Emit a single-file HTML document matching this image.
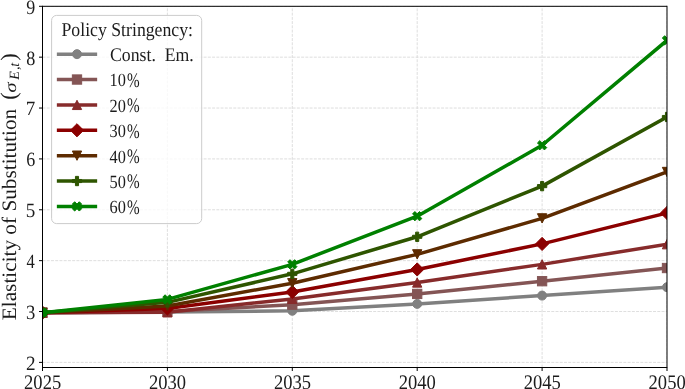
<!DOCTYPE html>
<html><head><meta charset="utf-8"><style>
html,body{margin:0;padding:0;background:#fff;overflow:hidden}
svg{display:block;will-change:transform;font-family:"Liberation Serif",serif;fill:#000;text-rendering:geometricPrecision}
text{fill:#1c1c1c}
</style></head><body>
<svg width="685" height="389" viewBox="0 0 685 389">
<rect width="685" height="389" fill="#fff"/>
<defs><clipPath id="ax"><rect x="42.5" y="6.3" width="624.5" height="361.2"/></clipPath></defs>
<path d="M42.50 367.50V6.30M167.40 367.50V6.30M292.30 367.50V6.30M417.20 367.50V6.30M542.10 367.50V6.30M667.00 367.50V6.30M42.50 362.39H667.00M42.50 311.52H667.00M42.50 260.65H667.00M42.50 209.78H667.00M42.50 158.91H667.00M42.50 108.04H667.00M42.50 57.17H667.00M42.50 6.30H667.00" stroke="#d6d6d6" stroke-width="0.8" stroke-dasharray="2.96 1.28" fill="none" clip-path="url(#ax)"/>
<g clip-path="url(#ax)">
<polyline points="42.50,312.64 167.40,312.03 292.30,310.76 417.20,303.89 542.10,295.60 667.00,287.20" fill="none" stroke="#808080" stroke-width="3.5" stroke-linejoin="round" stroke-linecap="square"/>
<circle cx="42.50" cy="312.64" r="4.50" fill="#808080" stroke="#808080" stroke-width="1.0"/>
<circle cx="167.40" cy="312.03" r="4.50" fill="#808080" stroke="#808080" stroke-width="1.0"/>
<circle cx="292.30" cy="310.76" r="4.50" fill="#808080" stroke="#808080" stroke-width="1.0"/>
<circle cx="417.20" cy="303.89" r="4.50" fill="#808080" stroke="#808080" stroke-width="1.0"/>
<circle cx="542.10" cy="295.60" r="4.50" fill="#808080" stroke="#808080" stroke-width="1.0"/>
<circle cx="667.00" cy="287.20" r="4.50" fill="#808080" stroke="#808080" stroke-width="1.0"/>
<polyline points="42.50,312.64 167.40,311.52 292.30,304.70 417.20,293.92 542.10,281.20 667.00,268.03" fill="none" stroke="#845555" stroke-width="3.5" stroke-linejoin="round" stroke-linecap="square"/>
<rect x="37.85" y="307.99" width="9.30" height="9.30" fill="#845555" stroke="#845555" stroke-width="1.0" stroke-linejoin="miter"/>
<rect x="162.75" y="306.87" width="9.30" height="9.30" fill="#845555" stroke="#845555" stroke-width="1.0" stroke-linejoin="miter"/>
<rect x="287.65" y="300.05" width="9.30" height="9.30" fill="#845555" stroke="#845555" stroke-width="1.0" stroke-linejoin="miter"/>
<rect x="412.55" y="289.27" width="9.30" height="9.30" fill="#845555" stroke="#845555" stroke-width="1.0" stroke-linejoin="miter"/>
<rect x="537.45" y="276.55" width="9.30" height="9.30" fill="#845555" stroke="#845555" stroke-width="1.0" stroke-linejoin="miter"/>
<rect x="662.35" y="263.38" width="9.30" height="9.30" fill="#845555" stroke="#845555" stroke-width="1.0" stroke-linejoin="miter"/>
<polyline points="42.50,312.64 167.40,312.33 292.30,298.90 417.20,282.52 542.10,264.36 667.00,244.22" fill="none" stroke="#872b2b" stroke-width="3.5" stroke-linejoin="round" stroke-linecap="square"/>
<polygon points="42.50,307.99 37.85,317.29 47.15,317.29" fill="#872b2b" stroke="#872b2b" stroke-width="1.0" stroke-linejoin="miter"/>
<polygon points="167.40,307.68 162.75,316.98 172.05,316.98" fill="#872b2b" stroke="#872b2b" stroke-width="1.0" stroke-linejoin="miter"/>
<polygon points="292.30,294.25 287.65,303.55 296.95,303.55" fill="#872b2b" stroke="#872b2b" stroke-width="1.0" stroke-linejoin="miter"/>
<polygon points="417.20,277.87 412.55,287.17 421.85,287.17" fill="#872b2b" stroke="#872b2b" stroke-width="1.0" stroke-linejoin="miter"/>
<polygon points="542.10,259.71 537.45,269.01 546.75,269.01" fill="#872b2b" stroke="#872b2b" stroke-width="1.0" stroke-linejoin="miter"/>
<polygon points="667.00,239.57 662.35,248.87 671.65,248.87" fill="#872b2b" stroke="#872b2b" stroke-width="1.0" stroke-linejoin="miter"/>
<polyline points="42.50,312.64 167.40,308.47 292.30,291.99 417.20,269.45 542.10,243.91 667.00,212.98" fill="none" stroke="#8b0000" stroke-width="3.5" stroke-linejoin="round" stroke-linecap="square"/>
<polygon points="42.50,306.06 49.08,312.64 42.50,319.22 35.92,312.64" fill="#8b0000" stroke="#8b0000" stroke-width="1.0" stroke-linejoin="miter"/>
<polygon points="167.40,301.89 173.98,308.47 167.40,315.04 160.82,308.47" fill="#8b0000" stroke="#8b0000" stroke-width="1.0" stroke-linejoin="miter"/>
<polygon points="292.30,285.41 298.88,291.99 292.30,298.56 285.72,291.99" fill="#8b0000" stroke="#8b0000" stroke-width="1.0" stroke-linejoin="miter"/>
<polygon points="417.20,262.87 423.78,269.45 417.20,276.03 410.62,269.45" fill="#8b0000" stroke="#8b0000" stroke-width="1.0" stroke-linejoin="miter"/>
<polygon points="542.10,237.34 548.68,243.91 542.10,250.49 535.52,243.91" fill="#8b0000" stroke="#8b0000" stroke-width="1.0" stroke-linejoin="miter"/>
<polygon points="667.00,206.41 673.58,212.98 667.00,219.56 660.42,212.98" fill="#8b0000" stroke="#8b0000" stroke-width="1.0" stroke-linejoin="miter"/>
<polyline points="42.50,312.64 167.40,305.92 292.30,283.24 417.20,254.34 542.10,218.38 667.00,171.98" fill="none" stroke="#5d2b00" stroke-width="3.5" stroke-linejoin="round" stroke-linecap="square"/>
<polygon points="42.50,317.29 37.85,307.99 47.15,307.99" fill="#5d2b00" stroke="#5d2b00" stroke-width="1.0" stroke-linejoin="miter"/>
<polygon points="167.40,310.57 162.75,301.27 172.05,301.27" fill="#5d2b00" stroke="#5d2b00" stroke-width="1.0" stroke-linejoin="miter"/>
<polygon points="292.30,287.89 287.65,278.59 296.95,278.59" fill="#5d2b00" stroke="#5d2b00" stroke-width="1.0" stroke-linejoin="miter"/>
<polygon points="417.20,258.99 412.55,249.69 421.85,249.69" fill="#5d2b00" stroke="#5d2b00" stroke-width="1.0" stroke-linejoin="miter"/>
<polygon points="542.10,223.03 537.45,213.73 546.75,213.73" fill="#5d2b00" stroke="#5d2b00" stroke-width="1.0" stroke-linejoin="miter"/>
<polygon points="667.00,176.63 662.35,167.33 671.65,167.33" fill="#5d2b00" stroke="#5d2b00" stroke-width="1.0" stroke-linejoin="miter"/>
<polyline points="42.50,312.64 167.40,302.36 292.30,273.83 417.20,236.79 542.10,186.13 667.00,116.99" fill="none" stroke="#2e5500" stroke-width="3.5" stroke-linejoin="round" stroke-linecap="square"/>
<polygon points="40.95,307.99 44.05,307.99 44.05,311.09 47.15,311.09 47.15,314.19 44.05,314.19 44.05,317.29 40.95,317.29 40.95,314.19 37.85,314.19 37.85,311.09 40.95,311.09" fill="#2e5500" stroke="#2e5500" stroke-width="1.0" stroke-linejoin="miter"/>
<polygon points="165.85,297.71 168.95,297.71 168.95,300.81 172.05,300.81 172.05,303.91 168.95,303.91 168.95,307.01 165.85,307.01 165.85,303.91 162.75,303.91 162.75,300.81 165.85,300.81" fill="#2e5500" stroke="#2e5500" stroke-width="1.0" stroke-linejoin="miter"/>
<polygon points="290.75,269.18 293.85,269.18 293.85,272.28 296.95,272.28 296.95,275.38 293.85,275.38 293.85,278.48 290.75,278.48 290.75,275.38 287.65,275.38 287.65,272.28 290.75,272.28" fill="#2e5500" stroke="#2e5500" stroke-width="1.0" stroke-linejoin="miter"/>
<polygon points="415.65,232.14 418.75,232.14 418.75,235.24 421.85,235.24 421.85,238.34 418.75,238.34 418.75,241.44 415.65,241.44 415.65,238.34 412.55,238.34 412.55,235.24 415.65,235.24" fill="#2e5500" stroke="#2e5500" stroke-width="1.0" stroke-linejoin="miter"/>
<polygon points="540.55,181.48 543.65,181.48 543.65,184.58 546.75,184.58 546.75,187.68 543.65,187.68 543.65,190.78 540.55,190.78 540.55,187.68 537.45,187.68 537.45,184.58 540.55,184.58" fill="#2e5500" stroke="#2e5500" stroke-width="1.0" stroke-linejoin="miter"/>
<polygon points="665.45,112.34 668.55,112.34 668.55,115.44 671.65,115.44 671.65,118.54 668.55,118.54 668.55,121.64 665.45,121.64 665.45,118.54 662.35,118.54 662.35,115.44 665.45,115.44" fill="#2e5500" stroke="#2e5500" stroke-width="1.0" stroke-linejoin="miter"/>
<polyline points="42.50,312.64 167.40,299.41 292.30,264.31 417.20,216.19 542.10,145.28 667.00,40.38" fill="none" stroke="#008000" stroke-width="3.5" stroke-linejoin="round" stroke-linecap="square"/>
<polygon points="40.17,307.99 42.50,310.31 44.83,307.99 47.15,310.31 44.83,312.64 47.15,314.96 44.83,317.29 42.50,314.96 40.17,317.29 37.85,314.96 40.17,312.64 37.85,310.31" fill="#008000" stroke="#008000" stroke-width="1.0" stroke-linejoin="miter"/>
<polygon points="165.08,294.76 167.40,297.09 169.72,294.76 172.05,297.09 169.72,299.41 172.05,301.74 169.72,304.06 167.40,301.74 165.08,304.06 162.75,301.74 165.08,299.41 162.75,297.09" fill="#008000" stroke="#008000" stroke-width="1.0" stroke-linejoin="miter"/>
<polygon points="289.98,259.66 292.30,261.99 294.62,259.66 296.95,261.99 294.62,264.31 296.95,266.64 294.62,268.96 292.30,266.64 289.98,268.96 287.65,266.64 289.98,264.31 287.65,261.99" fill="#008000" stroke="#008000" stroke-width="1.0" stroke-linejoin="miter"/>
<polygon points="414.88,211.54 417.20,213.86 419.52,211.54 421.85,213.86 419.52,216.19 421.85,218.51 419.52,220.84 417.20,218.51 414.88,220.84 412.55,218.51 414.88,216.19 412.55,213.86" fill="#008000" stroke="#008000" stroke-width="1.0" stroke-linejoin="miter"/>
<polygon points="539.77,140.63 542.10,142.95 544.43,140.63 546.75,142.95 544.43,145.28 546.75,147.60 544.43,149.93 542.10,147.60 539.77,149.93 537.45,147.60 539.77,145.28 537.45,142.95" fill="#008000" stroke="#008000" stroke-width="1.0" stroke-linejoin="miter"/>
<polygon points="664.67,35.73 667.00,38.06 669.33,35.73 671.65,38.06 669.33,40.38 671.65,42.71 669.33,45.03 667.00,42.71 664.67,45.03 662.35,42.71 664.67,40.38 662.35,38.06" fill="#008000" stroke="#008000" stroke-width="1.0" stroke-linejoin="miter"/>
</g>
<path d="M42.5 6.3H667.0M42.5 367.5H667.0" stroke="#000" stroke-width="1.0" fill="none"/>
<path d="M42.5 5.8V368M667.0 5.8V368" stroke="#000" stroke-width="1.0" fill="none"/>
<path d="M42.50 367.5v3.5M167.40 367.5v3.5M292.30 367.5v3.5M417.20 367.5v3.5M542.10 367.5v3.5M667.00 367.5v3.5M42.50 362.39h-3.5M42.50 311.52h-3.5M42.50 260.65h-3.5M42.50 209.78h-3.5M42.50 158.91h-3.5M42.50 108.04h-3.5M42.50 57.17h-3.5M42.50 6.30h-3.5" stroke="#000" stroke-width="1.0"/>
<text x="26.06" y="369.79" font-size="20.3" textLength="9.60" lengthAdjust="spacingAndGlyphs">2</text>
<text x="26.01" y="318.92" font-size="20.3" textLength="9.32" lengthAdjust="spacingAndGlyphs">3</text>
<text x="26.58" y="268.05" font-size="20.3" textLength="8.28" lengthAdjust="spacingAndGlyphs">4</text>
<text x="25.79" y="217.18" font-size="20.3" textLength="9.56" lengthAdjust="spacingAndGlyphs">5</text>
<text x="26.13" y="166.31" font-size="20.3" textLength="9.01" lengthAdjust="spacingAndGlyphs">6</text>
<text x="25.65" y="115.44" font-size="20.3" textLength="9.50" lengthAdjust="spacingAndGlyphs">7</text>
<text x="26.21" y="64.57" font-size="20.3" textLength="9.08" lengthAdjust="spacingAndGlyphs">8</text>
<text x="26.32" y="13.70" font-size="20.3" textLength="9.02" lengthAdjust="spacingAndGlyphs">9</text>
<text x="24.08" y="389.1" font-size="20.6" textLength="37.14" lengthAdjust="spacingAndGlyphs">2025</text>
<text x="148.98" y="389.1" font-size="20.6" textLength="37.12" lengthAdjust="spacingAndGlyphs">2030</text>
<text x="273.88" y="389.1" font-size="20.6" textLength="37.14" lengthAdjust="spacingAndGlyphs">2035</text>
<text x="398.78" y="389.1" font-size="20.6" textLength="37.12" lengthAdjust="spacingAndGlyphs">2040</text>
<text x="523.68" y="389.1" font-size="20.6" textLength="37.14" lengthAdjust="spacingAndGlyphs">2045</text>
<text x="648.58" y="389.1" font-size="20.6" textLength="37.12" lengthAdjust="spacingAndGlyphs">2050</text>
<g transform="translate(15.5,320) rotate(-90)">
<text x="-0.21" y="0" font-size="20.5" textLength="211.33" lengthAdjust="spacingAndGlyphs">Elasticity of Substitution</text>
<text x="220.22" y="0" font-size="22.4">(</text>
<text x="259.38" y="0" font-size="22.4">)</text>
<text transform="translate(227.37,0.1) scale(1.077,0.849)" font-size="19.5" font-style="italic">σ</text>
<text x="240.17" y="3.1" font-size="14.2" font-style="italic">E</text>
<text x="249.93" y="3.1" font-size="14.2" font-style="italic">,</text>
<text x="253.38" y="3.1" font-size="14.2" font-style="italic">t</text>
</g>
<rect x="51.6" y="15.4" width="150.1" height="208.2" rx="5" ry="5" fill="#fff" fill-opacity="0.8" stroke="#cccccc" stroke-width="1"/>
<text x="61.49" y="35.70" font-size="19.5" textLength="131.55" lengthAdjust="spacingAndGlyphs" xml:space="preserve">Policy Stringency:</text>
<line x1="58.6" y1="54.15" x2="95.4" y2="54.15" stroke="#808080" stroke-width="3.5" stroke-linecap="square"/>
<circle cx="77.00" cy="54.15" r="4.50" fill="#808080" stroke="#808080" stroke-width="1.0"/>
<text x="109.97" y="61.15" font-size="19.3" textLength="83.80" lengthAdjust="spacingAndGlyphs" xml:space="preserve">Const.  Em.</text>
<line x1="58.6" y1="79.53" x2="95.4" y2="79.53" stroke="#845555" stroke-width="3.5" stroke-linecap="square"/>
<rect x="72.35" y="74.88" width="9.30" height="9.30" fill="#845555" stroke="#845555" stroke-width="1.0" stroke-linejoin="miter"/>
<text x="109.5" y="86.38" font-size="18.6" textLength="16.3" lengthAdjust="spacingAndGlyphs">10</text>
<text transform="translate(126.98,86.98) scale(0.736,1)" font-size="20.6">%</text>
<line x1="58.6" y1="104.90" x2="95.4" y2="104.90" stroke="#872b2b" stroke-width="3.5" stroke-linecap="square"/>
<polygon points="77.00,100.25 72.35,109.55 81.65,109.55" fill="#872b2b" stroke="#872b2b" stroke-width="1.0" stroke-linejoin="miter"/>
<text x="109.5" y="111.75" font-size="18.6" textLength="16.3" lengthAdjust="spacingAndGlyphs">20</text>
<text transform="translate(126.98,112.35) scale(0.736,1)" font-size="20.6">%</text>
<line x1="58.6" y1="130.28" x2="95.4" y2="130.28" stroke="#8b0000" stroke-width="3.5" stroke-linecap="square"/>
<polygon points="77.00,123.70 83.58,130.28 77.00,136.85 70.42,130.28" fill="#8b0000" stroke="#8b0000" stroke-width="1.0" stroke-linejoin="miter"/>
<text x="109.5" y="137.12" font-size="18.6" textLength="16.3" lengthAdjust="spacingAndGlyphs">30</text>
<text transform="translate(126.98,137.72) scale(0.736,1)" font-size="20.6">%</text>
<line x1="58.6" y1="155.65" x2="95.4" y2="155.65" stroke="#5d2b00" stroke-width="3.5" stroke-linecap="square"/>
<polygon points="77.00,160.30 72.35,151.00 81.65,151.00" fill="#5d2b00" stroke="#5d2b00" stroke-width="1.0" stroke-linejoin="miter"/>
<text x="109.5" y="162.50" font-size="18.6" textLength="16.3" lengthAdjust="spacingAndGlyphs">40</text>
<text transform="translate(126.98,163.10) scale(0.736,1)" font-size="20.6">%</text>
<line x1="58.6" y1="181.03" x2="95.4" y2="181.03" stroke="#2e5500" stroke-width="3.5" stroke-linecap="square"/>
<polygon points="75.45,176.38 78.55,176.38 78.55,179.47 81.65,179.47 81.65,182.58 78.55,182.58 78.55,185.68 75.45,185.68 75.45,182.58 72.35,182.58 72.35,179.47 75.45,179.47" fill="#2e5500" stroke="#2e5500" stroke-width="1.0" stroke-linejoin="miter"/>
<text x="109.5" y="187.88" font-size="18.6" textLength="16.3" lengthAdjust="spacingAndGlyphs">50</text>
<text transform="translate(126.98,188.47) scale(0.736,1)" font-size="20.6">%</text>
<line x1="58.6" y1="206.40" x2="95.4" y2="206.40" stroke="#008000" stroke-width="3.5" stroke-linecap="square"/>
<polygon points="74.67,201.75 77.00,204.08 79.33,201.75 81.65,204.08 79.33,206.40 81.65,208.72 79.33,211.05 77.00,208.72 74.67,211.05 72.35,208.72 74.67,206.40 72.35,204.08" fill="#008000" stroke="#008000" stroke-width="1.0" stroke-linejoin="miter"/>
<text x="109.5" y="213.25" font-size="18.6" textLength="16.3" lengthAdjust="spacingAndGlyphs">60</text>
<text transform="translate(126.98,213.85) scale(0.736,1)" font-size="20.6">%</text>
</svg>
</body></html>
